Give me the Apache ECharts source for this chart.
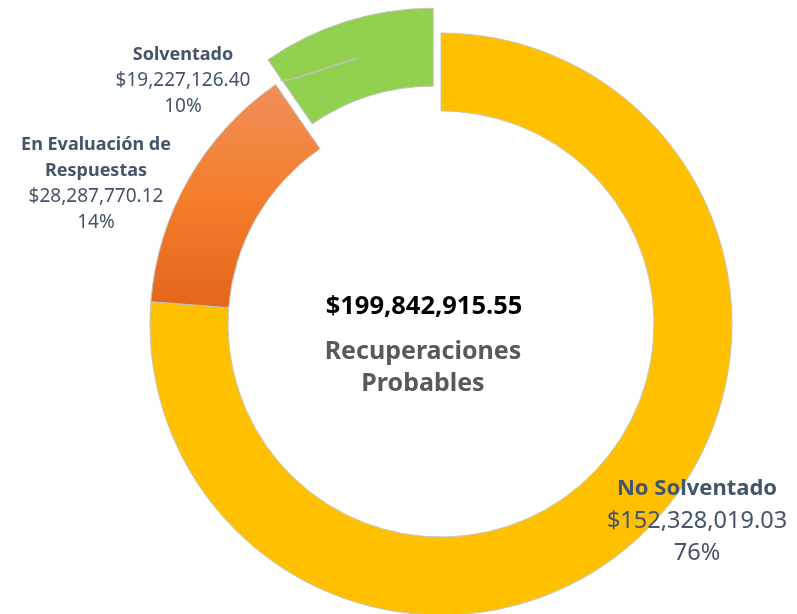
<!DOCTYPE html>
<html>
<head>
<meta charset="utf-8">
<script src="https://cdn.jsdelivr.net/npm/echarts@6/dist/echarts.min.js"></script>
<style>
  html, body { margin: 0; padding: 0; background: #fff; }
  #chart { width: 797px; height: 614px; }
</style>
</head>
<body>
<div id="chart"></div>
<script>
  const categories = ['No Solventado', 'En Evaluación de\nRespuestas', 'Solventado'];
  const amounts = [152328019.03, 28287770.12, 19227126.40];
  const centerCaption = ['Recuperaciones', 'Probables'];

  // where each label block sits (centre point) and its text sizes
  const labelSpots = [
    { x: 697, y: 521, nameSize: 22, valueSize: 23.5, lineHeight: 32 },
    { x: 96, y: 184, nameSize: 18, valueSize: 19, lineHeight: 26 },
    { x: 183, y: 81, nameSize: 18, valueSize: 19, lineHeight: 26 },
  ];

  const chart = echarts.init(document.getElementById('chart'), null, { renderer: 'canvas' });
  const total = amounts.reduce((a, b) => a + b, 0);
  const money = (v) => '$' + v.toLocaleString('en-US', { minimumFractionDigits: 2, maximumFractionDigits: 2 });
  const font = '"Noto Sans", sans-serif';
  const labelColor = '#44546A';

  const colors = [
    '#FFC000',
    new echarts.graphic.LinearGradient(0, 0, 0, 1, [
      { offset: 0, color: '#EF8F5A' },
      { offset: 0.5, color: '#F47E2C' },
      { offset: 1, color: '#E2661A' },
    ]),
    '#92D050',
  ];

  const labelGraphics = categories.map((name, i) => {
    const spot = labelSpots[i];
    const pct = Math.round((amounts[i] / total) * 100);
    const nameLines = name.split('\n').map((t) => '{n|' + t + '}').join('\n');
    return {
      type: 'text',
      x: spot.x,
      y: spot.y,
      z: 10,
      style: {
        text: nameLines + '\n{v|' + money(amounts[i]) + '}\n{v|' + pct + '%}',
        align: 'center',
        verticalAlign: 'middle',
        rich: {
          n: { fontFamily: font, fontWeight: 'bold', fontSize: spot.nameSize, fill: labelColor, lineHeight: spot.lineHeight, align: 'center' },
          v: { fontFamily: font, fontSize: spot.valueSize, fill: labelColor, lineHeight: spot.lineHeight, align: 'center' },
        },
      },
    };
  });

  chart.setOption({
    animation: false,
    graphic: [
      {
        type: 'text',
        x: 424, y: 307,
        style: {
          text: money(total), align: 'center', verticalAlign: 'middle',
          font: 'bold 25.5px ' + font, fill: '#000',
        },
      },
      {
        type: 'text',
        x: 423, y: 368,
        style: {
          text: centerCaption.join('\n'), align: 'center', verticalAlign: 'middle',
          font: 'bold 25px ' + font, fill: '#595959', lineHeight: 32,
        },
      },
      // leader line of the exploded slice
      {
        type: 'polyline',
        z: 10,
        shape: { points: [[280, 80], [290, 80], [357, 58]] },
        style: { stroke: '#BFBFBF', lineWidth: 1.5, fill: null },
      },
      ...labelGraphics,
    ],
    series: [
      {
        type: 'pie',
        center: [441, 324],
        radius: [213, 291],
        startAngle: 90,
        clockwise: true,
        selectedMode: 'single',
        selectedOffset: 26,
        itemStyle: { borderColor: '#C4C4C4', borderWidth: 1 },
        emphasis: { disabled: true },
        label: { show: false },
        labelLine: { show: false },
        data: categories.map((name, i) => ({
          name,
          value: amounts[i],
          selected: i === 2,
          itemStyle: { color: colors[i] },
        })),
      },
    ],
  });
</script>
</body>
</html>
